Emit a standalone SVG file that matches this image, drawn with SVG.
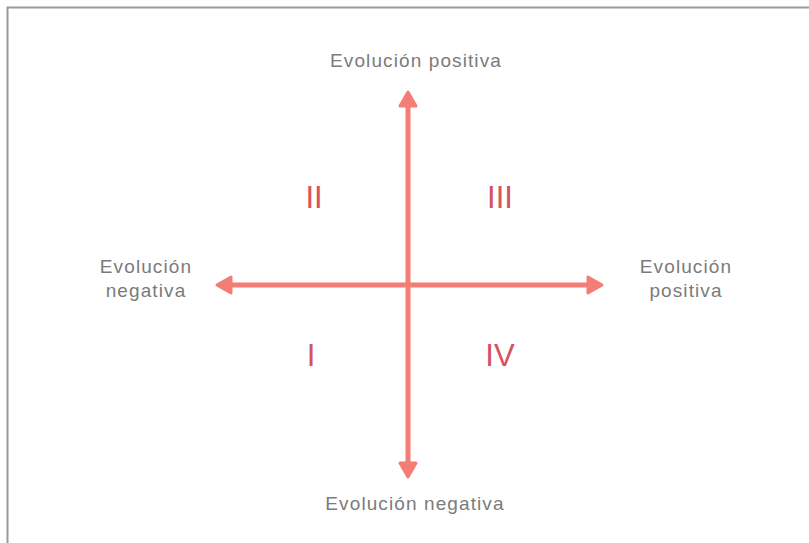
<svg xmlns="http://www.w3.org/2000/svg" width="809" height="543" viewBox="0 0 809 543">
<style>
.ax{stroke:#f47d76;stroke-width:5;fill:none}
.hd{fill:#f47d76;stroke:#f47d76;stroke-width:3;stroke-linejoin:round}
.lbl{font-family:"Liberation Sans",Arial,sans-serif;font-size:19px;letter-spacing:1.1px;fill:#7b7b7b;text-anchor:middle}
.rn{font-family:"Liberation Sans",Arial,sans-serif;font-size:31px;fill:#d5525f;text-anchor:middle}
</style>
<rect width="809" height="543" fill="#ffffff"/>
<path d="M7.5 543 V7.5 H809" fill="none" stroke="#9a9a9a" stroke-width="2"/>
<g id="connectors">
<line class="ax" x1="408" y1="104" x2="408" y2="464"/>
<line class="ax" x1="230" y1="285" x2="590" y2="285"/>
<polygon class="hd" points="408,92 400,106 416,106"/>
<polygon class="hd" points="408,477 400,463 416,463"/>
<polygon class="hd" points="217,285 231,277 231,293"/>
<polygon class="hd" points="602,285 588,277 588,293"/>
</g>
<g id="top"><text class="lbl" x="416" y="67">Evolución positiva</text></g>
<g id="bottom"><text class="lbl" x="415" y="510">Evolución negativa</text></g>
<g id="left"><text class="lbl" x="146" y="273">Evolución</text><text class="lbl" x="146" y="297">negativa</text></g>
<g id="right"><text class="lbl" x="686" y="273">Evolución</text><text class="lbl" x="686" y="297">positiva</text></g>
<g id="q2"><text class="rn" x="314" y="208">II</text></g>
<g id="q3"><text class="rn" x="500" y="208">III</text></g>
<g id="q1"><text class="rn" x="311" y="366">I</text></g>
<g id="q4"><text class="rn" x="500" y="366">IV</text></g>
</svg>
